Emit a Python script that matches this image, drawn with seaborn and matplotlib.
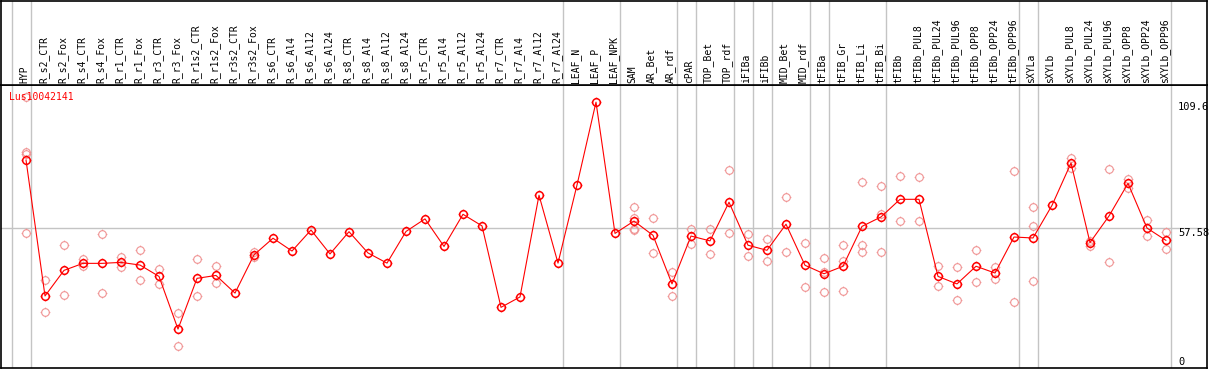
import numpy as np
import matplotlib
matplotlib.use("Agg")
import matplotlib.pyplot as plt
from matplotlib.path import Path
import seaborn as sns

categories = ["HYP", "R_s2_CTR", "R_s2_Fox", "R_s4_CTR", "R_s4_Fox", "R_r1_CTR", "R_r1_Fox",
              "R_r3_CTR", "R_r3_Fox", "R_r1s2_CTR", "R_r1s2_Fox", "R_r3s2_CTR", "R_r3s2_Fox",
              "R_s6_CTR", "R_s6_Al4", "R_s6_Al12", "R_s6_Al24", "R_s8_CTR", "R_s8_Al4",
              "R_s8_Al12", "R_s8_Al24", "R_r5_CTR", "R_r5_Al4", "R_r5_Al12", "R_r5_Al24",
              "R_r7_CTR", "R_r7_Al4", "R_r7_Al12", "R_r7_Al24", "LEAF_N", "LEAF_P", "LEAF_NPK",
              "SAM", "AR_Bet", "AR_rdf", "cPAR", "TOP_Bet", "TOP_rdf", "iFIBa", "iFIBb",
              "MID_Bet", "MID_rdf", "tFIBa", "tFIB_Gr", "tFIB_Li", "tFIB_Bi", "tFIBb",
              "tFIBb_PUL8", "tFIBb_PUL24", "tFIBb_PUL96", "tFIBb_OPP8", "tFIBb_OPP24",
              "tFIBb_OPP96", "sXYLa", "sXYLb", "sXYLb_PUL8", "sXYLb_PUL24", "sXYLb_PUL96",
              "sXYLb_OPP8", "sXYLb_OPP24", "sXYLb_OPP96"]

means = [85.7, 29.4, 40.0, 42.9, 42.9, 43.3, 42.2, 37.5, 15.7, 36.7, 37.9, 30.6, 46.4,
         53.3, 48.0, 56.7, 46.8, 56.0, 47.2, 43.0, 56.1, 61.3, 49.9, 63.2, 58.4,
         24.7, 29.0, 71.1, 43.0, 75.3, 109.6, 55.3,
         60.4, 54.5, 34.4, 54.2, 52.2, 68.2, 50.4, 48.3, 59.1, 42.1, 38.6, 41.7, 58.2,
         62.1, 69.4, 69.4, 37.5, 34.4, 41.7, 38.9, 53.8, 53.4, 66.9, 84.4, 51.5, 62.5,
         76.0, 57.5, 52.4]

replicates = [[111.6, 89.0, 88.2, 55.3], [35.9, 22.6], [50.5, 29.8], [44.6, 41.8],
              [55.0, 30.6], [45.7, 41.5], [48.3, 35.9], [40.4, 34.2], [22.2, 8.7],
              [44.6, 29.3], [41.8, 34.6], [], [47.5, 45.6],
              [], [], [], [], [], [], [], [], [], [], [], [], [], [], [], [], [], [], [],
              [66.2, 61.8, 57.0, 56.6], [61.5, 47.0], [39.2, 29.3], [57.1, 50.8],
              [57.1, 46.6], [81.4, 55.3], [55.0, 45.8], [53.0, 43.7], [70.4, 47.5],
              [51.2, 33.1], [45.0, 39.5, 31.0], [50.5, 44.0, 31.5], [76.4, 50.5, 47.7],
              [74.8, 63.5, 47.5], [78.9, 60.3], [78.5, 60.3], [41.8, 33.5], [41.4, 27.7],
              [48.3, 35.0], [41.4, 36.3], [81.1, 26.9], [66.2, 58.4, 35.6], [],
              [86.6, 82.2], [52.0, 50.1], [82.0, 43.3], [77.9, 74.2], [60.7, 54.1],
              [55.9, 48.7]]

group_ends = [-1, 0, 28, 31, 34, 35, 37, 38, 39, 41, 42, 45, 52, 53, 60]
y_labels = [109.6, 57.58, 0]
gene = "Lus10042141"

RED = "#ff0000"
PALE = "#f09494"
GRID = "#c4c4c4"
MONO = "DejaVu Sans Mono"

sns.set_style("white")
plt.rcParams["font.family"] = [MONO, "DejaVu Sans"]

# circle (polygon) marker with four short ticks
theta = np.linspace(0, 2 * np.pi, 41)
verts = [(np.cos(t), np.sin(t)) for t in theta]
codes = [Path.MOVETO] + [Path.LINETO] * (len(theta) - 1)
for dx, dy in [(0, 1), (0, -1), (1, 0), (-1, 0)]:
    verts += [(dx, dy), (dx * 1.28, dy * 1.28)]
    codes += [Path.MOVETO, Path.LINETO]
marker_path = Path(verts, codes)

W, H = 1209, 370
fig = plt.figure(figsize=(W / 100, H / 100), dpi=100)

x_left_px, x_right_px = 1, 1207
top_px, sep_px, bot_px = 0.5, 85, 368
ax = fig.add_axes([x_left_px / W, (H - bot_px) / H, (x_right_px - x_left_px) / W, (bot_px - sep_px) / H])
axh = fig.add_axes([x_left_px / W, (H - sep_px) / H, (x_right_px - x_left_px) / W, (sep_px - top_px) / H])

idx = np.arange(len(categories))
xlim = ((x_left_px - 26) / 19, (x_right_px - 26) / 19)

rep_x = [i for i, r in enumerate(replicates) for _ in r]
rep_y = [v for r in replicates for v in r]

for a in (ax, axh):
    for g in group_ends:
        a.axvline(g + 0.25, color=GRID, lw=1.0, zorder=0)
ax.axhline(57.58, color=GRID, lw=1.0, zorder=0)

sns.lineplot(x=rep_x, y=rep_y, estimator=None, sort=False, ax=ax, linestyle="none",
             marker=marker_path, markersize=7.0, markerfacecolor="none",
             markeredgecolor=PALE, markeredgewidth=0.8, zorder=2)
sns.lineplot(x=idx, y=means, ax=ax, color=RED, lw=0.8, marker=marker_path,
             markersize=7.0, markerfacecolor="none", markeredgecolor=RED,
             markeredgewidth=1.1, zorder=3)

ax.set_xlim(*xlim)
ax.set_ylim(-0.4, 116.7)
ax.set_xticks([])
ax.set_yticks([])
ax.set_xlabel("")
ax.set_ylabel("")

axh.set_xlim(*xlim)
axh.set_ylim(0, 1)
axh.set_xticks([])
axh.set_yticks([])

for a in (ax, axh):
    for s in a.spines.values():
        s.set_color("black")
        s.set_linewidth(1.2)
        s.set_visible(True)

label_base = (sep_px - 83) / (sep_px - top_px)
for i, c in enumerate(categories):
    axh.text(i - 0.08, label_base, c, rotation=90, ha="center", va="bottom",
             fontsize=7, family=MONO, color="black")

ax.text((9.5 - x_left_px) / (x_right_px - x_left_px), (bot_px - 97.3) / (bot_px - sep_px),
        gene, transform=ax.transAxes, ha="left", va="center", fontsize=7, family=MONO, color=RED)

ylab_x = (1178 - x_left_px) / (x_right_px - x_left_px)
trans = matplotlib.transforms.blended_transform_factory(ax.transAxes, ax.transData)
for v in y_labels:
    txt = f"{v:g}"
    ax.text(ylab_x, v, txt, transform=trans, ha="left",
            va="bottom" if v == 0 else "top", fontsize=7.5, family=MONO, color="black")

fig.savefig("out.png", dpi=100)
